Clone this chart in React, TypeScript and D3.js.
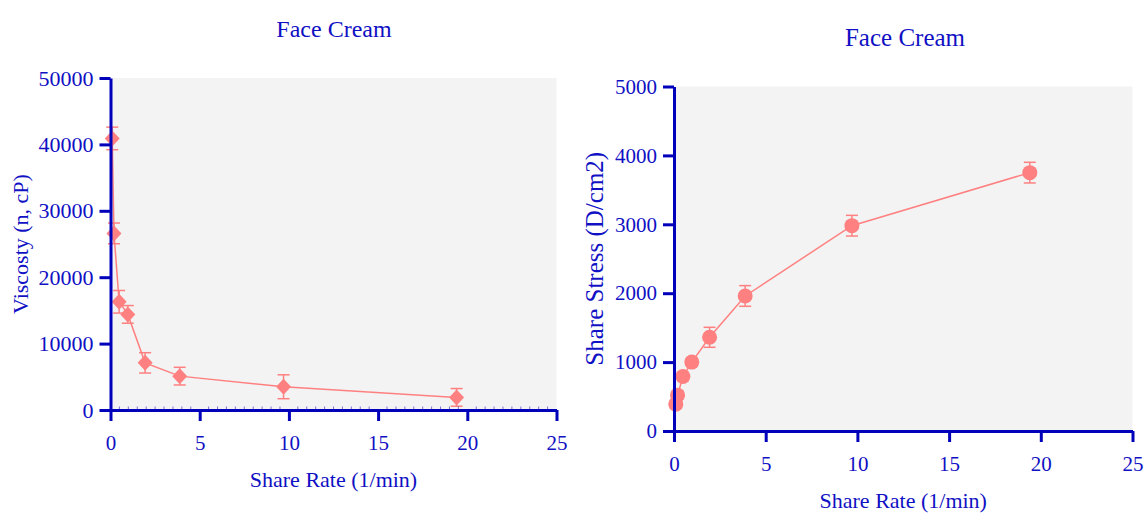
import React, { useRef, useEffect } from "react";
import * as d3 from "d3";

// shear rate in 1/min, same for both panels
const shearRate = [0.097, 0.194, 0.485, 0.97, 1.94, 3.88, 9.7, 19.4];

const viscosity = [40900, 26600, 16300, 14400, 7100, 5100, 3500, 1900];
const viscosityErr = [1700, 1560, 1700, 1330, 1530, 1330, 1800, 1330];

const shearStress = [390, 520, 790, 1000, 1360, 1960, 2980, 3750];
const shearStressErr = [60, 60, 60, 60, 145, 150, 150, 150];

const xTicks = [0, 5, 10, 15, 20, 25];
const viscosityTicks = [0, 10000, 20000, 30000, 40000, 50000];
const stressTicks = [0, 1000, 2000, 3000, 4000, 5000];

const AXIS = "#0000bb";
const TEXT = "#1010c4";
const POINT = "#ff8080";
const FONT = "'Liberation Serif', 'Times New Roman', serif";

function Panel({
  x0, x1, y0, y1,
  values, errors, yTicks, yMax,
  title, titleX, titleY, titleSize,
  yLabel, yLabelX, yLabelSize, yTickSize,
  xLabelY, marker, minorTicks,
}) {
  const xAxisRef = useRef(null);
  const yAxisRef = useRef(null);

  const x = d3.scaleLinear().domain([0, 25]).range([x0, x1]);
  const y = d3.scaleLinear().domain([0, yMax]).range([y0, y1]);

  const pts = shearRate.map((r, i) => ({ r, v: values[i], e: errors[i] }));
  const line = d3.line().x((d) => x(d.r)).y((d) => y(d.v));

  useEffect(() => {
    const xa = d3.select(xAxisRef.current);
    xa.call(
      d3.axisBottom(x).tickValues(xTicks).tickSize(11).tickSizeOuter(0).tickPadding(14)
    );
    xa.select(".domain").attr("stroke", AXIS).attr("stroke-width", 3);
    xa.selectAll(".tick line").attr("stroke", AXIS).attr("stroke-width", 3);
    xa.selectAll(".tick text")
      .attr("fill", TEXT)
      .style("font-family", FONT)
      .style("font-size", "21px");

    const ya = d3.select(yAxisRef.current);
    ya.call(
      d3.axisLeft(y).tickValues(yTicks).tickSize(11).tickSizeOuter(0).tickPadding(6)
        .tickFormat(d3.format("d"))
    );
    ya.select(".domain").attr("stroke", AXIS).attr("stroke-width", 3);
    ya.selectAll(".tick line").attr("stroke", AXIS).attr("stroke-width", 3);
    ya.selectAll(".tick text")
      .attr("fill", TEXT)
      .style("font-family", FONT)
      .style("font-size", yTickSize + "px");
  }, []);

  const minors = minorTicks ? d3.range(0.5, 25, 0.5).filter((t) => t % 5 !== 0) : [];

  return (
    <g>
      <rect x={x0} y={y1} width={x1 - x0} height={y0 - y1} fill="#f3f3f3" />

      <path d={line(pts)} fill="none" stroke={POINT} strokeWidth={1.5} />

      {pts.map((d, i) => (
        <g key={i} stroke={POINT} strokeWidth={1.5}>
          <line x1={x(d.r)} x2={x(d.r)} y1={y(d.v - d.e)} y2={y(d.v + d.e)} />
          <line x1={x(d.r) - 6} x2={x(d.r) + 6} y1={y(d.v - d.e)} y2={y(d.v - d.e)} />
          <line x1={x(d.r) - 6} x2={x(d.r) + 6} y1={y(d.v + d.e)} y2={y(d.v + d.e)} />
        </g>
      ))}

      {pts.map((d, i) =>
        marker === "diamond" ? (
          <polygon
            key={"m" + i}
            points={`${x(d.r)},${y(d.v) - 8} ${x(d.r) + 7.5},${y(d.v)} ${x(d.r)},${y(d.v) + 8} ${x(d.r) - 7.5},${y(d.v)}`}
            fill={POINT}
          />
        ) : (
          <circle key={"m" + i} cx={x(d.r)} cy={y(d.v)} r={7.5} fill={POINT} />
        )
      )}

      <g ref={xAxisRef} transform={`translate(0,${y0})`} />
      <g ref={yAxisRef} transform={`translate(${x0},0)`} />

      {minors.map((t) => (
        <line key={"n" + t} x1={x(t)} x2={x(t)} y1={y0 - 3.5} y2={y0} stroke={AXIS}
          strokeWidth={1} opacity={0.5} />
      ))}

      <text x={titleX} y={titleY} textAnchor="middle" fill={TEXT}
        style={{ fontFamily: FONT, fontSize: titleSize }}>
        {title}
      </text>
      <text x={(x0 + x1) / 2} y={xLabelY} textAnchor="middle" fill={TEXT}
        style={{ fontFamily: FONT, fontSize: 22 }}>
        Share Rate (1/min)
      </text>
      <text
        transform={`translate(${yLabelX},${(y0 + y1) / 2}) rotate(-90)`}
        textAnchor="middle"
        fill={TEXT}
        style={{ fontFamily: FONT, fontSize: yLabelSize }}
      >
        {yLabel}
      </text>
    </g>
  );
}

export default function App() {
  return (
    <svg
      width={1147}
      height={513}
      style={{ position: "absolute", left: 0, top: 0, background: "#fff" }}
    >
      <Panel
        x0={110.5} x1={556.5} y0={410} y1={78}
        values={viscosity} errors={viscosityErr} yTicks={viscosityTicks} yMax={50000}
        title="Face Cream" titleX={334} titleY={37} titleSize={24}
        yLabel="Viscosty (n, cP)" yLabelX={28} yLabelSize={22} yTickSize={22}
        xLabelY={487} marker="diamond" minorTicks={true}
      />
      <Panel
        x0={674} x1={1132.5} y0={431} y1={86.5}
        values={shearStress} errors={shearStressErr} yTicks={stressTicks} yMax={5000}
        title="Face Cream" titleX={905} titleY={46} titleSize={25}
        yLabel="Share Stress (D/cm2)" yLabelX={603} yLabelSize={25} yTickSize={21}
        xLabelY={508} marker="circle" minorTicks={false}
      />
    </svg>
  );
}
